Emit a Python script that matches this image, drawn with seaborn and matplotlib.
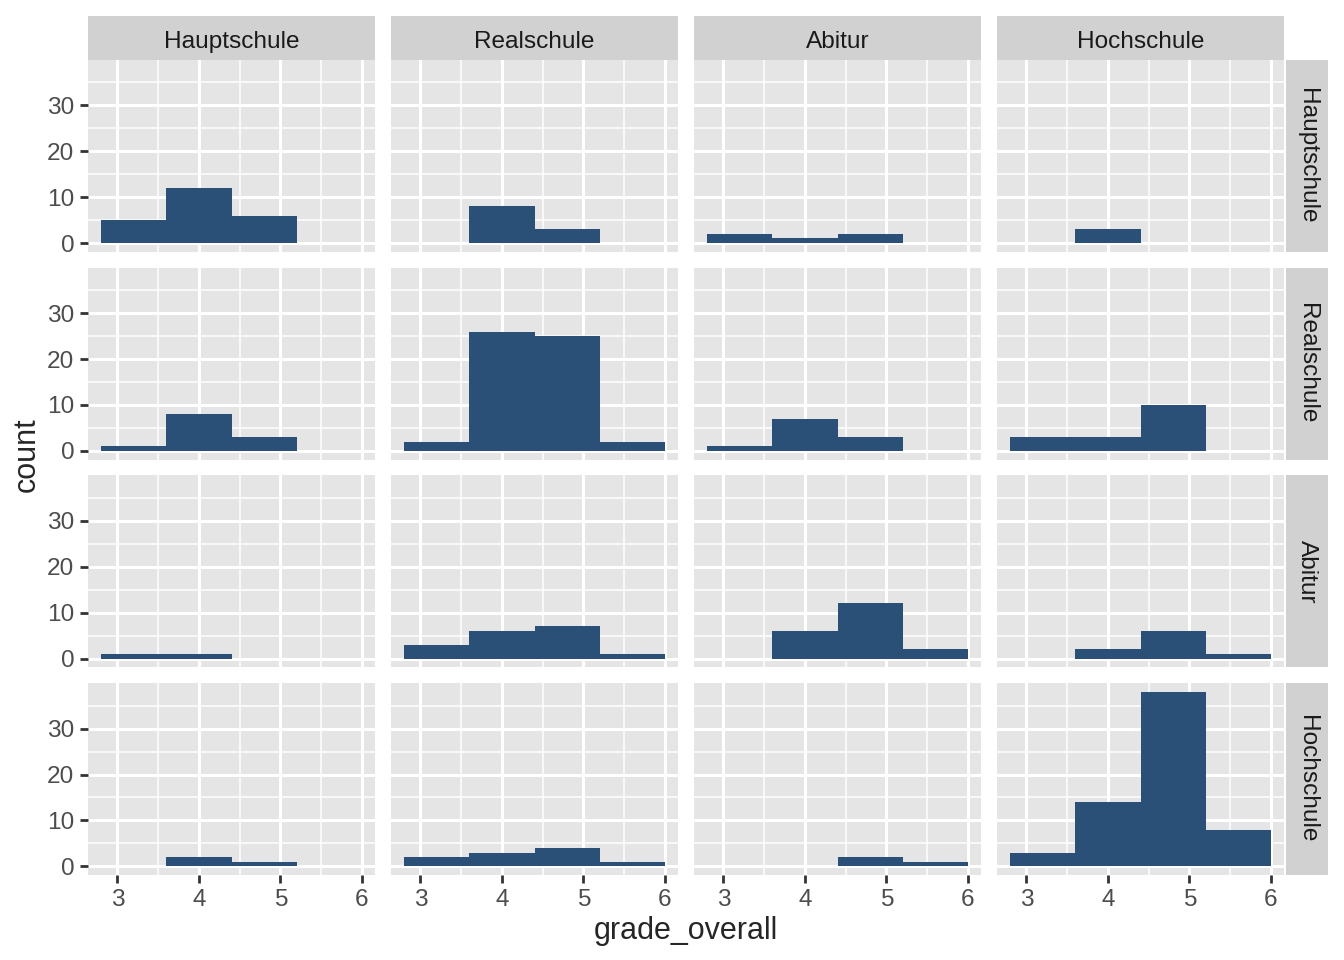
import numpy as np
import pandas as pd
import matplotlib
matplotlib.use("Agg")
import matplotlib.pyplot as plt
from matplotlib.patches import Rectangle
from matplotlib.ticker import FixedLocator
import seaborn as sns

# facet levels and histogram bins
schools = ["Hauptschule", "Realschule", "Abitur", "Hochschule"]
bin_edges = [2.8, 3.6, 4.4, 5.2, 6.0]
bin_centers = [3.2, 4.0, 4.8, 5.6]

# counts per bin, one list per column facet, for each row facet
counts_hauptschule = [[5, 12, 6, 0], [0, 8, 3, 0], [2, 1, 2, 0], [0, 3, 0, 0]]
counts_realschule = [[1, 8, 3, 0], [2, 26, 25, 2], [1, 7, 3, 0], [3, 3, 10, 0]]
counts_abitur = [[1, 1, 0, 0], [3, 6, 7, 1], [0, 6, 12, 2], [0, 2, 6, 1]]
counts_hochschule = [[0, 2, 1, 0], [2, 3, 4, 1], [0, 0, 2, 1], [3, 14, 38, 8]]

counts_by_row = [counts_hauptschule, counts_realschule, counts_abitur, counts_hochschule]

records = []
for r, row_counts in zip(schools, counts_by_row):
    for c, cnts in zip(schools, row_counts):
        for g, n in zip(bin_centers, cnts):
            records.append({"row": r, "col": c, "grade_overall": g, "n": n})
df = pd.DataFrame(records)

BAR = "#2B5078"
PANEL = "#E5E5E5"
STRIP = "#D1D1D1"

sns.set_theme(style="white")
plt.rcParams["font.family"] = ["Liberation Sans", "DejaVu Sans"]

g = sns.FacetGrid(df, row="row", col="col", row_order=schools, col_order=schools,
                  sharex=True, sharey=True, height=1.2, aspect=1.4, despine=False)
g.map_dataframe(sns.histplot, x="grade_overall", weights="n", bins=bin_edges,
                color=BAR, alpha=1, linewidth=0, edgecolor=BAR)
g.figure.set_size_inches(6.72, 4.8)
g.figure.subplots_adjust(left=88/1344, right=1284/1344, top=1-60/960, bottom=1-875/960,
                         wspace=16/287, hspace=16/192)
g.set_titles("")
g.set_axis_labels("", "")

for i, r in enumerate(schools):
    for j, c in enumerate(schools):
        ax = g.axes[i, j]
        ax.set_facecolor(PANEL)
        ax.set_xlim(2.64, 6.16)
        ax.set_ylim(-1.9, 39.9)
        ax.xaxis.set_major_locator(FixedLocator([3, 4, 5, 6]))
        ax.xaxis.set_minor_locator(FixedLocator([3.5, 4.5, 5.5]))
        ax.yaxis.set_major_locator(FixedLocator([0, 10, 20, 30]))
        ax.yaxis.set_minor_locator(FixedLocator([5, 15, 25, 35]))
        ax.grid(which="major", color="white", linewidth=1.1)
        ax.grid(which="minor", color="white", linewidth=0.55)
        ax.set_axisbelow(True)
        for s in ax.spines.values():
            s.set_visible(False)
        ax.tick_params(which="major", length=2.75, width=1.0, color="#333333",
                       labelsize=8.8, labelcolor="#4D4D4D", pad=2.2)
        ax.tick_params(which="minor", length=0)
        ax.tick_params(axis="x", bottom=(i == 3), labelbottom=(i == 3))
        ax.tick_params(axis="y", left=(j == 0), labelleft=(j == 0))
        ax.set_xlabel("")
        ax.set_ylabel("")
        if i == 0:
            ax.add_patch(Rectangle((0, 1.0), 1, 44/192, transform=ax.transAxes,
                                   facecolor=STRIP, edgecolor="none", clip_on=False))
            ax.text(0.5, 1 + 21/192, c, transform=ax.transAxes, ha="center",
                    va="center_baseline", fontsize=8.8, color="#1A1A1A")
        if j == 3:
            ax.add_patch(Rectangle((1 + 2/287, 0), 42/287, 1, transform=ax.transAxes,
                                   facecolor=STRIP, edgecolor="none", clip_on=False))
            ax.text(1 + 23/287, 0.5, r, transform=ax.transAxes, ha="center", va="center",
                    rotation=-90, fontsize=8.8, color="#1A1A1A")

g.figure.text(686/1344, 1-931/960, "grade_overall", ha="center", va="center", fontsize=11)
g.figure.text(27/1344, 1-455/960, "count", ha="center", va="center", rotation=90, fontsize=11)

g.figure.savefig("out.png", dpi=200)
